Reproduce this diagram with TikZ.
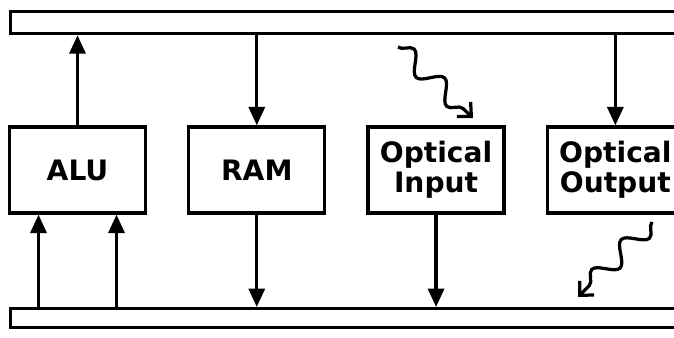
\documentclass[tikz,border=0pt]{standalone}
\usepackage{fontspec}
\setmainfont{DejaVu Sans}
\usetikzlibrary{arrows.meta,positioning,calc,decorations.pathmorphing}

\begin{document}
\begin{tikzpicture}[
    x=0.025cm,y=-0.025cm,
    node distance=1.0cm,
    every node/.style={font=\fontsize{20}{21.5}\selectfont\bfseries,align=center},
    unit/.style={draw,line width=2.3pt,minimum width=3.4cm,minimum height=2.15cm,
                 inner sep=0pt},
    bus/.style={draw,line width=2.3pt,minimum width=30cm,inner sep=0pt,
                anchor=north west},
    arrow/.style={-{Triangle[length=4.6mm,width=4mm]},line width=2.3pt},
    wave/.style={-{Straight Barb[length=2.6mm,width=5mm]},line width=2.3pt,decorate,
                 decoration={snake,segment length=1.05cm,amplitude=0.24cm,
                             post length=2mm}}
]
\useasboundingbox (0,0) rectangle (674,337);
\clip (0,0) rectangle (674,337);

\node[bus,minimum height=0.55cm] (topbus) at (9,10) {};
\node[bus,minimum height=0.48cm] (botbus) at (9,307) {};

\node[unit] (alu) at (77.5,170) {ALU};
\node[unit,right=of alu] (ram) {RAM};
\node[unit,right=of ram] (optin) {Optical\\Input};
\node[unit,right=of optin] (optout) {Optical\\Output};

\coordinate (alul) at ($(alu.south west)!0.22!(alu.south east)$);
\coordinate (alur) at ($(alu.south west)!0.78!(alu.south east)$);
\coordinate (lightin) at (398,47);
\coordinate (lightinend) at (473,118);
\coordinate (lightout) at (652,222);
\coordinate (lightoutend) at (578,297);

\draw[arrow] (alu) -- (alu |- topbus.south);
\draw[arrow] (topbus.south -| ram) -- (ram);
\draw[arrow] (topbus.south -| optout) -- (optout);
\draw[arrow] (alul |- botbus.north) -- (alul);
\draw[arrow] (alur |- botbus.north) -- (alur);
\draw[arrow] (ram) -- (ram |- botbus.north);
\draw[arrow] (optin) -- (optin |- botbus.north);
\draw[wave] (lightin) -- (lightinend);
\draw[wave] (lightout) -- (lightoutend);
\end{tikzpicture}
\end{document}
